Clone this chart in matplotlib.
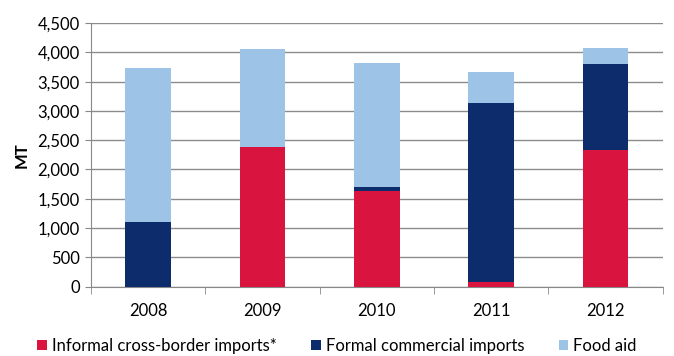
import numpy as np
import matplotlib.pyplot as plt
from matplotlib.ticker import FuncFormatter, MultipleLocator

plt.rcParams['font.family'] = ['Lato', 'DejaVu Sans']

years = ['2008', '2009', '2010', '2011', '2012']
informal = [0, 2380, 1630, 70, 2330]
formal = [1100, 0, 70, 3060, 1480]
food_aid = [2630, 1670, 2120, 540, 260]

c_informal = '#D8143F'
c_formal = '#0D2C6C'
c_food = '#9DC3E6'

fig = plt.figure(figsize=(6.74, 3.56), dpi=100)
ax = fig.add_axes([0.135, 0.195, 0.848, 0.74])

x = np.arange(len(years))
w = 0.4
informal = np.array(informal)
formal = np.array(formal)
food_aid = np.array(food_aid)

ax.bar(x, informal, w, color=c_informal, label='Informal cross-border imports*', zorder=3)
ax.bar(x, formal, w, bottom=informal, color=c_formal, label='Formal commercial imports', zorder=3)
ax.bar(x, food_aid, w, bottom=informal + formal, color=c_food, label='Food aid', zorder=3)

ax.set_xlim(-0.5, len(years) - 0.5)
ax.set_ylim(0, 4500)
ax.yaxis.set_major_locator(MultipleLocator(500))
ax.yaxis.set_major_formatter(FuncFormatter(lambda v, p: f'{int(v):,}'))
ax.set_xticks(x)
ax.set_xticklabels(years)
# category separators on the x axis
ax.set_xticks(np.arange(-0.5, len(years)), minor=True)
ax.tick_params(axis='x', which='major', length=0, pad=12, labelsize=12)
ax.tick_params(axis='x', which='minor', length=5, color='#888888', direction='out')
ax.tick_params(axis='y', length=4, color='#888888', labelsize=12, pad=4)

ax.grid(axis='y', color='#8c8c8c', linewidth=1.0, zorder=0)
for s in ['top', 'right']:
    ax.spines[s].set_visible(False)
ax.spines['left'].set_color('#888888')
ax.spines['bottom'].set_color('#888888')

ax.set_ylabel('MT', fontsize=12, fontweight='bold', labelpad=6)

fig.legend(loc='center', bbox_to_anchor=(0.5, 0.028), ncol=3, frameon=False,
           fontsize=12, handlelength=0.55, handleheight=0.55, handletextpad=0.3,
           columnspacing=2.1)

fig.savefig('out.png', dpi=100)
